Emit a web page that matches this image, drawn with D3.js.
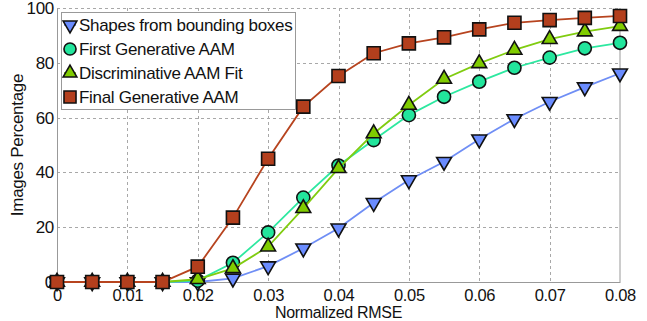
<!DOCTYPE html>
<html>
<head>
<meta charset="utf-8">
<script src="https://cdn.jsdelivr.net/npm/d3@7"></script>
<style>
  html, body { margin: 0; padding: 0; background: #fff; }
  svg { display: block; font-family: "Liberation Sans", Arial, sans-serif; }
  svg text { letter-spacing: -0.3px; }
</style>
</head>
<body>
<div id="chart"></div>
<script>
// ------- data -------
const rmse = [0, 0.005, 0.01, 0.015, 0.02, 0.025, 0.03, 0.035, 0.04, 0.045, 0.05, 0.055, 0.06, 0.065, 0.07, 0.075, 0.08];
const bboxShapes  = [0, 0, 0, 0, 0, 1.3, 5.8, 12.3, 19.6, 28.9, 37.2, 43.9, 52.1, 59.5, 65.8, 71.1, 76.2];
const firstGen    = [0, 0, 0, 0, 0.5, 7, 18.1, 30.8, 42.5, 51.8, 60.9, 67.6, 73.1, 78.2, 81.9, 85.3, 87.3];
const discrimFit  = [0, 0, 0, 0, 1, 5, 12.9, 26.9, 41.5, 54.2, 64.6, 74.1, 79.8, 84.7, 88.6, 91.4, 93.4];
const finalGen    = [0, 0, 0, 0, 5.6, 23.5, 45, 64, 75.2, 83.5, 87.1, 89.3, 92.2, 94.6, 95.6, 96.4, 97.1];
const xTicks = [0, 0.01, 0.02, 0.03, 0.04, 0.05, 0.06, 0.07, 0.08];
const yTicks = [0, 20, 40, 60, 80, 100];

const series = [
  { name: "Shapes from bounding boxes", values: bboxShapes, line: "#6f8ef5", fill: "#6a8cff", shape: "down" },
  { name: "First Generative AAM",       values: firstGen,   line: "#2de8a0", fill: "#22e59c", shape: "circle" },
  { name: "Discriminative AAM Fit",     values: discrimFit, line: "#80cc10", fill: "#80cc00", shape: "up" },
  { name: "Final Generative AAM",       values: finalGen,   line: "#b7441f", fill: "#b33f1d", shape: "square" }
];

const W = 647, H = 321;
const margin = { top: 8, right: 27, bottom: 39, left: 57 };
const FONT = "17px";
const XFONT = "16px";

const svg = d3.select("#chart").append("svg")
  .attr("width", W).attr("height", H);

const x = d3.scaleLinear().domain([0, 0.08]).range([margin.left, W - margin.right]);
const y = d3.scaleLinear().domain([0, 100]).range([H - margin.bottom, margin.top]);

// grid
const grid = svg.append("g").attr("stroke", "#a8a8a8").attr("stroke-dasharray", "3,3").attr("stroke-width", 1);
grid.selectAll("line.vx").data(xTicks.slice(1, -1)).enter().append("line")
  .attr("x1", d => Math.round(x(d)) + 0.5).attr("x2", d => Math.round(x(d)) + 0.5)
  .attr("y1", y(100)).attr("y2", y(0));
grid.selectAll("line.hy").data(yTicks.slice(1)).enter().append("line")
  .attr("y1", d => Math.round(y(d)) + 0.5).attr("y2", d => Math.round(y(d)) + 0.5)
  .attr("x1", x(0)).attr("x2", x(0.08));

// axes
const xAxis = svg.append("g")
  .attr("transform", `translate(0,${y(0)})`)
  .call(d3.axisBottom(x).tickValues(xTicks).tickFormat(d3.format("~g")).tickSize(0).tickPadding(7));
const yAxis = svg.append("g")
  .attr("transform", `translate(${x(0)},0)`)
  .call(d3.axisLeft(y).tickValues(yTicks).tickSize(0).tickPadding(3));
[xAxis, yAxis].forEach(a => {
  a.select(".domain").attr("stroke", "#999");
  a.selectAll("text").attr("fill", "#111").style("font-family", "'Liberation Sans', Arial, sans-serif");
});
xAxis.selectAll("text").style("font-size", "16.5px");
yAxis.selectAll("text").style("font-size", FONT);
svg.append("line")
  .attr("x1", x(0.08)).attr("x2", x(0.08)).attr("y1", y(100)).attr("y2", y(0))
  .attr("stroke", "#999");

// axis titles
svg.append("text")
  .attr("x", x(0.04)).attr("y", H - 3.5)
  .attr("text-anchor", "middle").attr("fill", "#111")
  .style("font-size", XFONT)
  .text("Normalized RMSE");
svg.append("text")
  .attr("transform", `translate(23,${(y(0) + y(100)) / 2}) rotate(-90)`)
  .attr("text-anchor", "middle").attr("fill", "#111")
  .style("font-size", FONT)
  .text("Images Percentage");

// marker helper
const symbolFor = (shape, size) => {
  if (shape === "circle") return d3.symbol(d3.symbolCircle, size)();
  if (shape === "square") return d3.symbol(d3.symbolSquare, size)();
  return d3.symbol(d3.symbolTriangle, size)();
};
const drawMarker = (sel, s, size) => {
  sel.append("path")
    .attr("d", symbolFor(s.shape, size))
    .attr("transform", s.shape === "down" ? "rotate(180)" : null)
    .attr("fill", s.fill)
    .attr("stroke", "#111")
    .attr("stroke-width", 1.6);
};
const sizes = { circle: 135, square: 170, up: 95, down: 95 };

const line = d3.line().x((d, i) => x(rmse[i])).y(d => y(d));

series.forEach(s => {
  const g = svg.append("g");
  g.append("path")
    .attr("d", line(s.values))
    .attr("fill", "none")
    .attr("stroke", s.line)
    .attr("stroke-width", 1.8);
  s.values.forEach((v, i) => {
    const m = g.append("g").attr("transform", `translate(${x(rmse[i])},${y(v)})`);
    drawMarker(m, s, sizes[s.shape]);
  });
});

// legend
const legend = svg.append("g").attr("transform", "translate(61,12)");
legend.append("rect")
  .attr("x", 0.5).attr("y", 0.5).attr("width", 234).attr("height", 97)
  .attr("fill", "#fff").attr("stroke", "#999");
series.forEach((s, i) => {
  const row = legend.append("g").attr("transform", `translate(0,${13 + i * 24})`);
  row.append("line").attr("x1", 3).attr("x2", 15).attr("stroke", s.line).attr("stroke-width", 1.8);
  const m = row.append("g").attr("transform", "translate(9,0)");
  drawMarker(m, s, sizes[s.shape] * 0.85);
  row.append("text")
    .attr("x", 18).attr("y", 6)
    .attr("fill", "#111")
    .style("font-size", FONT)
    .text(s.name);
});
</script>
</body>
</html>
